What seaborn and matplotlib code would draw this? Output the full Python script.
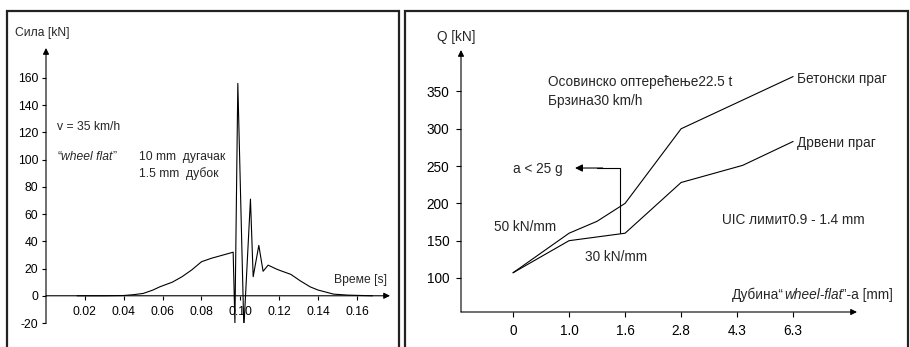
import matplotlib
matplotlib.use("Agg")
import matplotlib.pyplot as plt
import seaborn as sns
import pandas as pd
from matplotlib.patches import Rectangle

# ---------------- data ----------------
# Left panel: wheel-flat impact force vs time
time_s = [0.016, 0.030, 0.040, 0.045, 0.050, 0.055, 0.0586, 0.065, 0.070, 0.075,
          0.080, 0.085, 0.090, 0.0963, 0.0972, 0.0987, 0.1018, 0.1052, 0.1066,
          0.1095, 0.1117, 0.1143, 0.118, 0.120, 0.126, 0.131, 0.136, 0.140,
          0.148, 0.155, 0.160, 0.168]
force_kn = [0.0, 0.0, 0.2, 0.8, 1.7, 4.2, 6.6, 10.0, 14.0, 19.0,
            25.0, 27.5, 29.5, 32.0, -20.0, 156.0, -24.0, 71.0, 14.0,
            37.0, 18.0, 22.5, 20.0, 18.8, 15.7, 10.8, 6.5, 4.2,
            1.2, 0.5, 0.3, 0.0]
left_xticks = [0.02, 0.04, 0.06, 0.08, 0.10, 0.12, 0.14, 0.16]
left_xticklabels = ["0.02", "0.04", "0.06", "0.08", "0.10", "0.12", "0.14", "0.16"]
left_yticks = [-20, 0, 20, 40, 60, 80, 100, 120, 140, 160]

# Right panel: Q vs wheel-flat depth (categorical axis positions)
depth_labels = ["0", "1.0", "1.6", "2.8", "4.3", "6.3"]
depth_pos = [0, 1, 2, 3, 4, 5]
concrete_pos = [0, 1, 1.5, 2, 3, 5]
concrete_q = [107, 160, 176, 200, 300, 370]
wood_pos = [0, 1, 2, 3, 4.1, 5]
wood_q = [107, 150, 160, 228, 251, 283]
right_yticks = [100, 150, 200, 250, 300, 350]

# ---------------- figure ----------------
sns.set_theme(style="white")
plt.rcParams["font.family"] = ["Liberation Sans", "DejaVu Sans"]
plt.rcParams["axes.unicode_minus"] = False

W, H = 910, 347
fig = plt.figure(figsize=(W / 100, H / 100), dpi=100)

def fx(px):
    return px / W

def fy(py):
    return 1 - py / H

# frames
for (x0, x1) in [(7, 399), (405, 908)]:
    fig.add_artist(Rectangle((fx(x0), fy(360)), fx(x1) - fx(x0), fy(11) - fy(360),
                             transform=fig.transFigure, fill=False,
                             edgecolor="#222222", lw=1.6, clip_on=False))

FS_L = 8.7
FS_R = 9.8
arrow_kw = dict(arrowstyle="-|>", color="black", lw=0.8, mutation_scale=9,
                shrinkA=0, shrinkB=0)

# ---------- left axes ----------
axL = fig.add_axes([fx(46), fy(323), fx(390) - fx(46), fy(48) - fy(323)])
axL.set_xlim(0, 0.177)
axL.set_ylim(-20, 182)
dfL = pd.DataFrame({"t": time_s, "F": force_kn})
sns.lineplot(data=dfL, x="t", y="F", ax=axL, color="black", lw=0.8,
             sort=False, estimator=None)
axL.set_xlabel("")
axL.set_ylabel("")
for s in axL.spines.values():
    s.set_visible(False)
axL.set_xticks(left_xticks)
axL.set_xticklabels(left_xticklabels)
axL.set_yticks(left_yticks)
axL.tick_params(axis="both", which="both", direction="out", length=3,
                width=0.8, color="black", labelsize=FS_L, labelcolor="black",
                bottom=True, left=True)
axL.tick_params(axis="x", pad=4.5)
axL.tick_params(axis="y", pad=2.5)
axL.spines["bottom"].set_position(("data", 0))
axL.annotate("", xy=(1.0, 0), xycoords=("axes fraction", "data"),
             xytext=(0.0, 0), textcoords=("axes fraction", "data"),
             arrowprops=arrow_kw)
axL.annotate("", xy=(0, 1.0), xycoords=("data", "axes fraction"),
             xytext=(0, 0.0), textcoords=("data", "axes fraction"),
             arrowprops=arrow_kw)
axL.text(0.00566, 124, "v = 35 km/h", fontsize=FS_L, va="center", ha="left")
t1 = axL.text(0.00566, 102, "“", fontsize=FS_L, va="center", ha="left")
t2 = axL.annotate("wheel flat", xy=(1, 0), xycoords=t1, va="bottom", ha="left",
                  fontsize=FS_L, style="italic")
axL.annotate("”", xy=(1, 0), xycoords=t2, va="bottom", ha="left", fontsize=FS_L)
axL.text(0.0478, 102, "10 mm  дугачак", fontsize=FS_L, va="center", ha="left")
axL.text(0.0478, 89.5, "1.5 mm  дубок", fontsize=FS_L, va="center", ha="left")
axL.text(0.148, 11.7, "Време [s]", fontsize=FS_L, va="center", ha="left")
fig.text(fx(15), fy(33), "Сила [kN]", fontsize=FS_L, va="center", ha="left")

# ---------- right axes ----------
axR = fig.add_axes([fx(461), fy(312), fx(857) - fx(461), fy(50) - fy(312)])
axR.set_xlim(-0.929, 6.14)
axR.set_ylim(54.4, 405.6)
dfC = pd.DataFrame({"x": concrete_pos, "Q": concrete_q})
dfW = pd.DataFrame({"x": wood_pos, "Q": wood_q})
sns.lineplot(data=dfC, x="x", y="Q", ax=axR, color="black", lw=0.8,
             sort=False, estimator=None)
sns.lineplot(data=dfW, x="x", y="Q", ax=axR, color="black", lw=0.8,
             sort=False, estimator=None)
axR.set_xlabel("")
axR.set_ylabel("")
for s in axR.spines.values():
    s.set_visible(False)
axR.set_xticks(depth_pos)
axR.set_xticklabels(depth_labels)
axR.set_yticks(right_yticks)
axR.tick_params(axis="both", which="both", direction="out", length=3.5,
                width=0.8, color="black", labelsize=FS_R, labelcolor="black",
                bottom=True, left=True)
axR.tick_params(axis="x", pad=5)
axR.tick_params(axis="y", pad=5)
axR.annotate("", xy=(1.0, 0.0), xycoords="axes fraction",
             xytext=(0.0, 0.0), textcoords="axes fraction", arrowprops=arrow_kw)
axR.annotate("", xy=(0.0, 1.0), xycoords="axes fraction",
             xytext=(0.0, 0.0), textcoords="axes fraction", arrowprops=arrow_kw)

# a < 25 g indicator
axR.plot([1.91, 1.91, 1.5], [160, 247.4, 247.4], color="black", lw=0.8)
axR.annotate("", xy=(1.107, 247.4), xytext=(1.6, 247.4),
             arrowprops=dict(arrowstyle="-|>", color="black", lw=0.8,
                             mutation_scale=11, shrinkA=0, shrinkB=0))
axR.text(0.0, 246.5, "a < 25 g", fontsize=FS_R, va="center", ha="left")
axR.text(-0.34, 168.8, "50 kN/mm", fontsize=FS_R, va="center", ha="left")
axR.text(1.29, 128.6, "30 kN/mm", fontsize=FS_R, va="center", ha="left")
axR.text(3.73, 178, "UIC лимит0.9 - 1.4 mm", fontsize=FS_R, va="center", ha="left")
axR.text(5.07, 367, "Бетонски праг", fontsize=FS_R, va="center", ha="left")
axR.text(5.07, 281, "Дрвени праг", fontsize=FS_R, va="center", ha="left")
axR.text(0.625, 363, "Осовинско оптерећење22.5 t", fontsize=FS_R, va="center", ha="left")
axR.text(0.625, 337.6, "Брзина30 km/h", fontsize=FS_R, va="center", ha="left")
d1 = axR.text(3.91, 77.6, "Дубина“", fontsize=FS_R, va="center", ha="left")
d2 = axR.annotate("wheel-flat", xy=(1, 0), xycoords=d1, va="bottom", ha="left",
                  fontsize=FS_R, style="italic")
axR.annotate("”-a [mm]", xy=(1, 0), xycoords=d2, va="bottom", ha="left",
             fontsize=FS_R)
fig.text(fx(437), fy(37), "Q [kN]", fontsize=FS_R, va="center", ha="left")

fig.savefig("out.png", dpi=100)
